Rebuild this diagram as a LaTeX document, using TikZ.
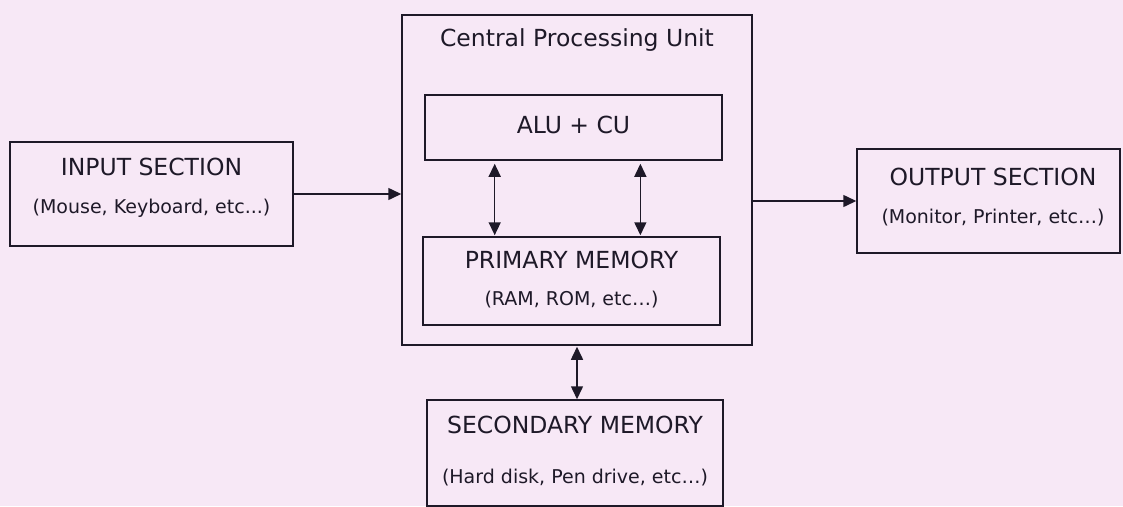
\documentclass[tikz,border=0pt]{standalone}
\usepackage{fontspec}
\setmainfont{DejaVu Sans}
\usetikzlibrary{arrows.meta,calc}
\definecolor{bg}{RGB}{247,232,246}
\definecolor{ink}{RGB}{30,25,40}
\tikzset{
  box/.style={draw=ink,line width=1.5pt,rectangle,inner sep=0pt},
  big/.style={text=ink,font=\fontsize{23.5}{26}\selectfont,inner sep=0pt},
  small/.style={text=ink,font=\fontsize{19}{21}\selectfont,inner sep=0pt},
  tip/.tip={Triangle[length=13pt,width=12pt]},
  arr/.style={draw=ink,line width=1.5pt,-tip},
  darr/.style={draw=ink,line width=1.5pt,tip-tip}
}
\begin{document}
\begin{tikzpicture}[x=1pt,y=-1pt]
\fill[bg] (0,0) rectangle (1123,506);
\useasboundingbox (0,0) rectangle (1123,506);
% boxes
\node[box,minimum width=283pt,minimum height=104pt] (in) at (151.5,194) {};
\node[box,minimum width=350pt,minimum height=330pt] (cpu) at (577,180) {};
\node[box,minimum width=297pt,minimum height=65pt] (alu) at (573.5,127.5) {};
\node[box,minimum width=297pt,minimum height=88pt] (pm) at (571.5,281) {};
\node[box,minimum width=263pt,minimum height=104pt] (out) at (988.5,201) {};
\node[box,minimum width=296pt,minimum height=106pt] (sec) at (575,453) {};
% texts
\node[big] (tin) at (151.5,167) {INPUT SECTION};
\node[small] (sin) at (151.5,208) {(Mouse, Keyboard, etc...)};
\node[big] (tcpu) at (577,40) {Central Processing Unit};
\node[big] (talu) at (573.5,125) {ALU + CU};
\node[big] (tpm) at (571.5,260) {PRIMARY MEMORY};
\node[small] (spm) at (571.5,300) {(RAM, ROM, etc…)};
\node[big] (tout) at (993,177) {OUTPUT SECTION};
\node[small] (sout) at (993,218) {(Monitor, Printer, etc…)};
\node[big] (tsec) at (575,425) {SECONDARY MEMORY};
\node[small] (ssec) at (575,478) {(Hard disk, Pen drive, etc…)};
% connector end points
\coordinate (a1) at ($(alu.south west)!0.236!(alu.south east)$);
\coordinate (a2) at ($(alu.south west)!0.724!(alu.south east)$);
\coordinate (p1) at (a1 |- pm.north);
\coordinate (p2) at (a2 |- pm.north);
% connectors
\draw[arr] (in.east) -- (in.east -| cpu.west);
\draw[arr] (out.west -| cpu.east) -- (out.west);
\draw[darr,shorten <=3pt,shorten >=1pt] (a1) -- (p1);
\draw[darr,shorten <=3pt,shorten >=1pt] (a2) -- (p2);
\draw[darr,shorten <=1pt] (cpu.south) -- (cpu.south |- sec.north);
\end{tikzpicture}
\end{document}
